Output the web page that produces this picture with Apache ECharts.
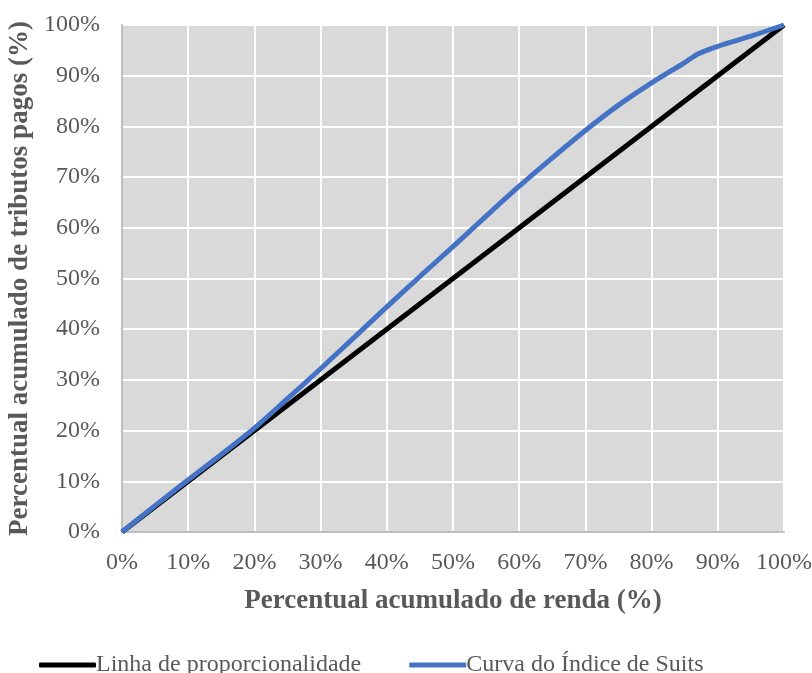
<!DOCTYPE html>
<html><head><meta charset="utf-8">
<script src="https://cdn.jsdelivr.net/npm/echarts@6/dist/echarts.min.js"></script>
<style>html,body{margin:0;padding:0;background:#fff}#c{width:812px;height:673px}</style>
</head><body><div id="c"></div>
<script>
const seriesNames = ['Linha de proporcionalidade', 'Curva do Índice de Suits'];
const xAxisTitle = 'Percentual acumulado de renda (%)';
const yAxisTitle = 'Percentual acumulado de tributos pagos (%)';
const propX = [0, 100];
const propY = [0, 100];
const suitsX = [0, 5, 10, 15, 20, 25, 30, 35, 40, 45, 50, 55, 60, 65, 70, 75, 80, 85, 87, 90, 95, 100];
const suitsY = [0, 5.2, 10.3, 15.3, 20.5, 26.3, 32.2, 38.3, 44.4, 50.4, 56.3, 62.3, 68.2, 73.8, 79.2, 84.2, 88.6, 92.6, 94.3, 95.8, 97.8, 100];

const font = 'Liberation Serif';
const chart = echarts.init(document.getElementById('c'));
chart.setOption({
  animation: false,
  grid: { left: 122, right: 28, top: 25, bottom: 141, show: true, backgroundColor: '#d9d9d9', borderWidth: 0,
          containLabel: false, outerBoundsMode: 'none' },
  xAxis: {
    type: 'value', min: 0, max: 100, interval: 10,
    name: xAxisTitle, nameLocation: 'middle', nameGap: 56,
    nameTextStyle: { fontFamily: font, fontSize: 27, fontWeight: 'bold', color: '#595959' },
    axisLine: { lineStyle: { color: '#bfbfbf', width: 2 } },
    axisTick: { show: false },
    axisLabel: { formatter: '{value}%', fontFamily: font, fontSize: 24, color: '#595959', margin: 19 },
    splitLine: { show: true, lineStyle: { color: '#ffffff', width: 2 } }
  },
  yAxis: {
    type: 'value', min: 0, max: 100, interval: 10,
    name: yAxisTitle, nameLocation: 'middle', nameGap: 86,
    nameTextStyle: { fontFamily: font, fontSize: 27, fontWeight: 'bold', color: '#595959' },
    axisLine: { show: true, lineStyle: { color: '#bfbfbf', width: 2 } },
    axisTick: { show: false },
    axisLabel: { formatter: '{value}%', fontFamily: font, fontSize: 24, color: '#595959', margin: 22 },
    splitLine: { show: true, lineStyle: { color: '#ffffff', width: 2 } }
  },
  legend: {
    left: 34, top: 648, itemWidth: 57, itemHeight: 5, itemGap: 48,
    icon: 'roundRect',
    textStyle: { fontFamily: font, fontSize: 24, color: '#595959', padding: [0, 0, 0, -5] },
    data: seriesNames
  },
  series: [
    { name: seriesNames[0], type: 'line', showSymbol: false, symbol: 'none',
      data: propX.map((x, i) => [x, propY[i]]),
      lineStyle: { color: '#000000', width: 5 }, itemStyle: { color: '#000000' } },
    { name: seriesNames[1], type: 'line', showSymbol: false, symbol: 'none', smooth: 0.3,
      data: suitsX.map((x, i) => [x, suitsY[i]]),
      lineStyle: { color: '#4472c4', width: 5 }, itemStyle: { color: '#4472c4' } }
  ]
});
</script></body></html>
